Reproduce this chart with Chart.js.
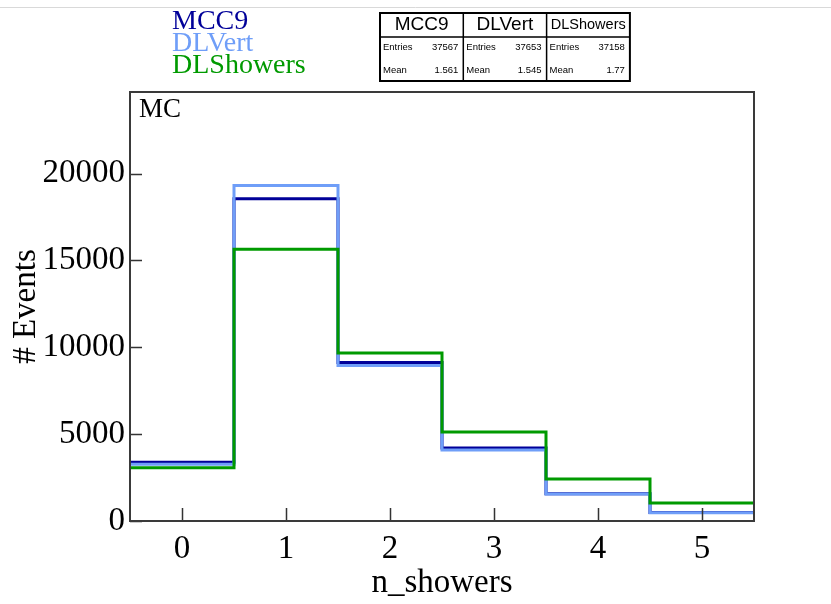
<!DOCTYPE html>
<html>
<head>
<meta charset="utf-8">
<script src="https://cdn.jsdelivr.net/npm/chart.js@4"></script>
<style>
  html, body { margin: 0; padding: 0; background: #fff; }
  #wrap { width: 831px; height: 604px; }
</style>
</head>
<body>
<div id="wrap"><canvas id="histChart" width="831" height="604"></canvas></div>
<script>
// bin centres of n_showers and the counts in each bin
const binCenters = [0, 1, 2, 3, 4, 5];
const mcc9Counts = [3380, 18560, 9120, 4210, 1570, 490];
const dlVertCounts = [3270, 19310, 8950, 4090, 1550, 480];
const dlShowersCounts = [3070, 15640, 9670, 5130, 2420, 1040];

const seriesNames = ['MCC9', 'DLVert', 'DLShowers'];
const seriesColors = ['#000099', '#6f9ef8', '#009a00'];
const statEntries = ['37567', '37653', '37158'];
const statMeans = ['1.561', '1.545', '1.77'];

const xTicks = [0, 1, 2, 3, 4, 5];
const yTicks = [0, 5000, 10000, 15000, 20000];
const xRange = [-0.5, 5.5];
const yMax = 24700;

const serif = "'Liberation Serif', 'Times New Roman', serif";
const sans = "'Liberation Sans', Arial, sans-serif";

// histogram outline: bin centres with 'middle' steps, padded with the outer edges
function histPoints(counts) {
    const pts = [{ x: xRange[0], y: counts[0] }];
    binCenters.forEach((c, i) => pts.push({ x: c, y: counts[i] }));
    pts.push({ x: xRange[1], y: counts[counts.length - 1] });
    return pts;
}

const allCounts = [mcc9Counts, dlVertCounts, dlShowersCounts];
const widths = [3, 3, 3];

const datasets = seriesNames.map((name, i) => ({
    label: name,
    data: histPoints(allCounts[i]),
    borderColor: seriesColors[i],
    backgroundColor: seriesColors[i],
    borderWidth: widths[i],
    stepped: 'middle',
    pointRadius: 0,
    fill: false,
    order: seriesNames.length - 1 - i
}));

const decorations = {
    id: 'decorations',
    afterDatasetsDraw(chart) {
        const ctx = chart.ctx;
        const area = chart.chartArea;
        const xs = chart.scales.x;
        const ys = chart.scales.y;
        ctx.save();

        // inward tick marks
        ctx.strokeStyle = '#333';
        ctx.lineWidth = 1.5;
        ctx.beginPath();
        yTicks.forEach(v => {
            const py = Math.round(ys.getPixelForValue(v)) + 0.5;
            ctx.moveTo(area.left, py);
            ctx.lineTo(area.left + 12, py);
        });
        xTicks.forEach(v => {
            const px = Math.round(xs.getPixelForValue(v)) + 0.5;
            ctx.moveTo(px, area.bottom);
            ctx.lineTo(px, area.bottom - 13);
        });
        ctx.stroke();

        // frame
        ctx.strokeStyle = '#3a3a3a';
        ctx.lineWidth = 2;
        ctx.strokeRect(area.left, area.top, area.right - area.left, area.bottom - area.top);

        // MC label
        ctx.fillStyle = '#000';
        ctx.font = '27px ' + serif;
        ctx.textAlign = 'left';
        ctx.textBaseline = 'alphabetic';
        ctx.fillText('MC', area.left + 9, area.top + 25);
        ctx.restore();
    },
    afterDraw(chart) {
        const ctx = chart.ctx;
        ctx.save();

        // thin grey line along the top of the page
        ctx.strokeStyle = '#d9d9d9';
        ctx.lineWidth = 1;
        ctx.beginPath();
        ctx.moveTo(0, 7.5);
        ctx.lineTo(chart.width, 7.5);
        ctx.stroke();

        // legend text
        ctx.font = '28px ' + serif;
        ctx.textAlign = 'left';
        ctx.textBaseline = 'alphabetic';
        seriesNames.forEach((name, i) => {
            ctx.fillStyle = seriesColors[i];
            ctx.fillText(name, 172, 29 + i * 22);
        });

        // stats boxes
        const boxLeft = 380, boxTop = 13, colW = 83.3, boxBottom = 81, headLine = 37;
        ctx.strokeStyle = '#000';
        ctx.lineWidth = 1.5;
        ctx.beginPath();
        ctx.moveTo(boxLeft, headLine);
        ctx.lineTo(boxLeft + colW * 3, headLine);
        for (let i = 1; i < 3; i++) {
            ctx.moveTo(boxLeft + colW * i, boxTop);
            ctx.lineTo(boxLeft + colW * i, boxBottom);
        }
        ctx.stroke();
        ctx.lineWidth = 2;
        ctx.strokeRect(boxLeft, boxTop, colW * 3, boxBottom - boxTop);

        ctx.fillStyle = '#000';
        seriesNames.forEach((name, i) => {
            const x0 = boxLeft + colW * i;
            ctx.font = (name.length > 7 ? '14.5px ' : '19px ') + sans;
            ctx.textAlign = 'center';
            ctx.textBaseline = 'middle';
            ctx.fillText(name, x0 + colW / 2, 25);

            ctx.font = '9.5px ' + sans;
            ctx.textAlign = 'left';
            ctx.fillText('Entries', x0 + 3, 47);
            ctx.fillText('Mean', x0 + 3, 70);
            ctx.textAlign = 'right';
            ctx.fillText(statEntries[i], x0 + colW - 5, 47);
            ctx.fillText(statMeans[i], x0 + colW - 5, 70);
        });
        ctx.restore();
    }
};

const ctx = document.getElementById('histChart').getContext('2d');
const histChart = new Chart(ctx, {
    type: 'line',
    data: { datasets: datasets },
    options: {
        responsive: false,
        animation: false,
        events: [],
        layout: { padding: { left: 0, top: 92, right: 77, bottom: 0 } },
        plugins: {
            legend: { display: false },
            tooltip: { enabled: false }
        },
        scales: {
            x: {
                type: 'linear',
                min: xRange[0],
                max: xRange[1],
                afterBuildTicks: s => { s.ticks = xTicks.map(v => ({ value: v })); },
                afterFit: s => { s.height = 83; },
                grid: { display: false, drawTicks: false },
                border: { display: false },
                ticks: {
                    color: '#000',
                    padding: 9,
                    maxRotation: 0,
                    font: { family: serif, size: 33 },
                    callback: v => String(v)
                },
                title: {
                    display: true,
                    text: 'n_showers',
                    color: '#000',
                    font: { family: serif, size: 33 },
                    padding: { top: 0, bottom: 1 }
                }
            },
            y: {
                type: 'linear',
                min: 0,
                max: yMax,
                afterBuildTicks: s => { s.ticks = yTicks.map(v => ({ value: v })); },
                afterFit: s => { s.width = 130; },
                grid: { display: false, drawTicks: false },
                border: { display: false },
                ticks: {
                    color: '#000',
                    padding: 5,
                    font: { family: serif, size: 33 },
                    callback: v => String(v)
                },
                title: {
                    display: true,
                    text: '# Events',
                    color: '#000',
                    font: { family: serif, size: 33 },
                    padding: { top: 7, bottom: 0 }
                }
            }
        }
    },
    plugins: [decorations]
});
</script>
</body>
</html>
